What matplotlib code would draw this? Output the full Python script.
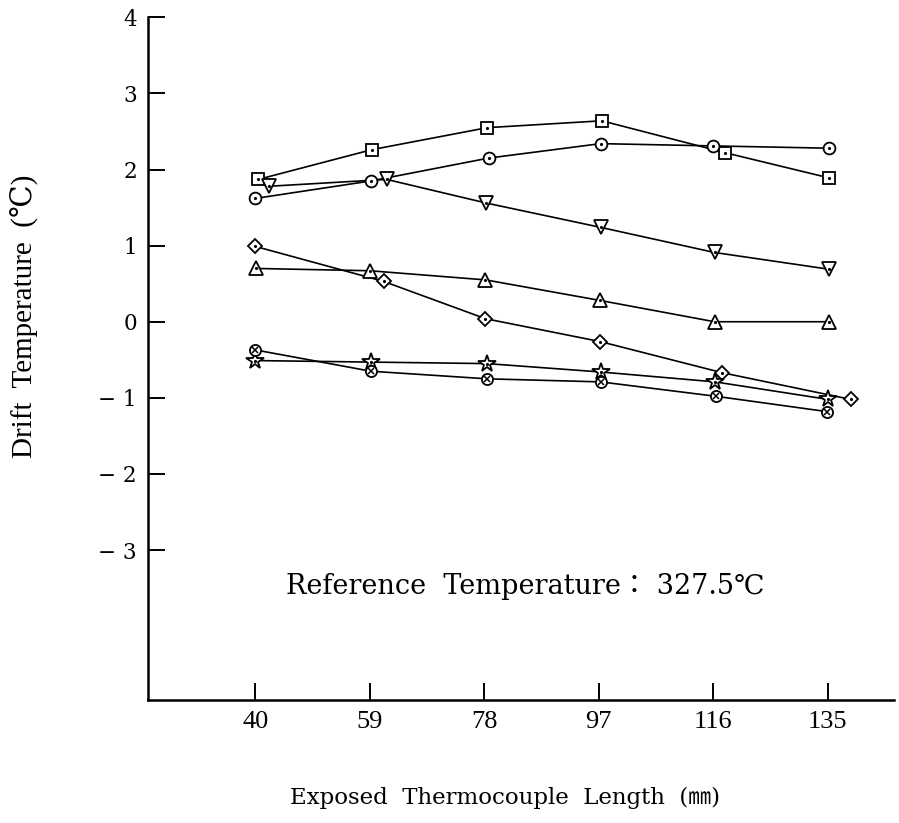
import numpy as np
import matplotlib.pyplot as plt

# nominal lengths (mm)
lengths = [40, 59, 78, 97, 116, 135]

# drift temperature per series (degC)
# x positions are a little shifted in the original drawing, kept as read
sq_x = [40.5, 59.3, 78.5, 97.5, 118.0, 135.2]
sq_y = [1.87, 2.26, 2.55, 2.64, 2.22, 1.89]

ci_x = [40.0, 59.2, 78.7, 97.3, 116.0, 135.2]
ci_y = [1.62, 1.85, 2.15, 2.34, 2.31, 2.28]

tdown_x = [42.3, 61.8, 78.3, 97.3, 116.2, 135.2]
tdown_y = [1.78, 1.87, 1.56, 1.24, 0.91, 0.69]

dia_x = [40.0, 61.3, 78.2, 97.2, 117.5, 138.8]
dia_y = [0.99, 0.53, 0.04, -0.26, -0.67, -1.02]

tup_x = [40.2, 59.0, 78.2, 97.2, 116.2, 135.2]
tup_y = [0.70, 0.67, 0.55, 0.28, 0.00, 0.00]

star_x = [40.0, 59.2, 78.5, 97.3, 116.3, 135.0]
star_y = [-0.51, -0.53, -0.55, -0.66, -0.79, -1.02]

ox_x = [40.0, 59.2, 78.5, 97.3, 116.5, 134.8]
ox_y = [-0.37, -0.65, -0.75, -0.79, -0.98, -1.18]

series = [
    (sq_x, sq_y, "s", 8.5),
    (ci_x, ci_y, "o", 8.5),
    (tdown_x, tdown_y, "v", 9.5),
    (dia_x, dia_y, "D", 7.5),
    (tup_x, tup_y, "^", 9.5),
    (star_x, star_y, "*", 13),
    (ox_x, ox_y, "ox", 8),
]

times = ["Liberation Serif", "DejaVu Serif", "Noto Sans CJK JP"]
century = ["DejaVu Serif", "Noto Sans CJK JP"]
plt.rcParams["font.family"] = times

fig = plt.figure(figsize=(8.99, 8.23), dpi=100)
ax = fig.add_axes([0.1646, 0.1494, 0.83, 0.8296])

for xs, ys, m, ms in series:
    ax.plot(xs, ys, color="black", lw=1.2, zorder=2)
    if m == "ox":
        ax.plot(xs, ys, ls="none", marker="o", ms=ms, mfc="white", mec="black",
                mew=1.3, zorder=3)
        ax.plot(xs, ys, ls="none", marker="x", ms=ms * 0.6, color="black",
                mew=1.1, zorder=4)
    else:
        ax.plot(xs, ys, ls="none", marker=m, ms=ms, mfc="white", mec="black",
                mew=1.3, zorder=3)
        ax.plot(xs, ys, ls="none", marker=".", ms=2.5, color="black", zorder=4)

ax.set_xlim(22.2, 146)
ax.set_ylim(-4.97, 4.0)
ax.set_xticks(lengths)
ax.set_xticklabels([str(v) for v in lengths], fontsize=19)
yt = [4, 3, 2, 1, 0, -1, -2, -3]
ax.set_yticks(yt)
ax.set_yticklabels([str(v) if v >= 0 else "\u2212 " + str(-v) for v in yt],
                   fontsize=15.5, family=century)
ax.tick_params(axis="both", direction="in", length=12, width=1.4)
ax.tick_params(axis="y", pad=8)
ax.tick_params(axis="x", pad=8)

for s in ["top", "right"]:
    ax.spines[s].set_visible(False)
for s in ["left", "bottom"]:
    ax.spines[s].set_linewidth(1.8)

ax.text(84.8, -3.48, "Reference  Temperature\uff1a 327.5\u2103", fontsize=19.5,
        ha="center", va="center", family=century)

fig.text(0.562, 0.03, "Exposed  Thermocouple  Length  (\u339c)", fontsize=16.5,
         ha="center", va="center", family=century)
fig.text(0.028, 0.616, "Drift  Temperature  (\u2103)", fontsize=21,
         ha="center", va="center", rotation=90)

fig.savefig("out.png", dpi=100)
